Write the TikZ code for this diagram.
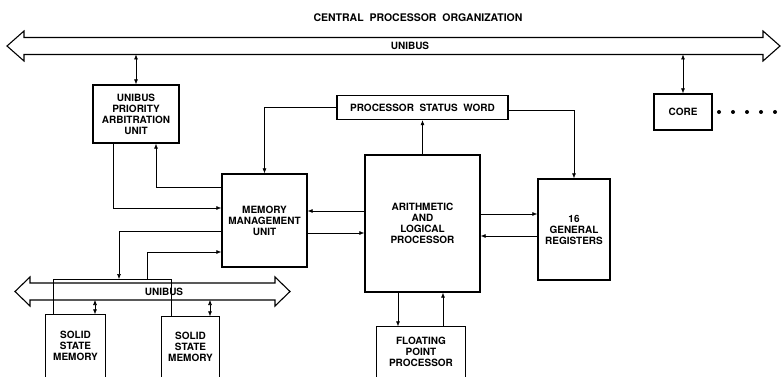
\documentclass[tikz,border=0pt]{standalone}
\usepackage{fontspec}
\setsansfont{TeX Gyre Heros}
\usepackage{tikz}
\usetikzlibrary{arrows.meta}
\tikzstyle{arrow} = [semithick,-{Latex[length=5pt,width=4pt]}]
\tikzstyle{dblarrow} = [semithick,{Latex[length=5pt,width=4pt]}-{Latex[length=5pt,width=4pt]}]
\tikzstyle{unit} = [rectangle, draw=black, line width=1.4pt, inner sep=0pt, text centered, align=center, font=\sffamily\bfseries\fontsize{10}{11}\selectfont]
\tikzstyle{openunit} = [unit, draw=none]
\tikzstyle{bus} = [line width=1.1pt, line join=miter]
\tikzstyle{buslabel} = [font=\sffamily\bfseries\fontsize{10}{11}\selectfont]

\begin{document}
\begin{tikzpicture}[x=1pt, y=-1pt]
\useasboundingbox (0,0) rectangle (782,377);

% title
\node (title) [buslabel, font=\sffamily\bfseries\fontsize{10.5}{12}\selectfont] at (418,18) {CENTRAL\ \ PROCESSOR\ \ ORGANIZATION};

% top unibus
\draw [bus] (7,46) -- (24,31) -- (24,37.5) -- (763,37.5) -- (763,31) -- (780,46)
    -- (763,61) -- (763,54.5) -- (24,54.5) -- (24,61) -- cycle;
\node (topbus) [buslabel] at (410,46) {UNIBUS};
\coordinate (topbusS) at (0,54.5);

% lower unibus
\draw [bus] (15,291.5) -- (30,277) -- (30,283) -- (275,283) -- (275,277) -- (290,291.5)
    -- (275,306) -- (275,300) -- (30,300) -- (30,306) -- cycle;
\node (lowbus) [buslabel] at (164,292) {UNIBUS};
\coordinate (lowbusS) at (0,300);

% units
\node (upau) [unit, minimum width=86pt, minimum height=58pt] at (136,114) {UNIBUS\\PRIORITY\\ARBITRATION\\UNIT};
\node (psw) [unit, minimum width=171pt, minimum height=24pt] at (422.5,107.5) {PROCESSOR\ \ STATUS\ \ WORD};
\node (mmu) [unit, minimum width=85pt, minimum height=93pt] at (264.5,220.5) {MEMORY\\MANAGEMENT\\UNIT};
\node (alp) [unit, minimum width=115pt, minimum height=137pt] at (422.5,223.5) {ARITHMETIC\\AND\\LOGICAL\\PROCESSOR};
\node (regs) [unit, minimum width=72pt, minimum height=101pt] at (574,229.5) {16\\GENERAL\\REGISTERS};
\node (core) [unit, minimum width=58pt, minimum height=36pt] at (683,112) {CORE};
\node (fpp) [openunit, minimum width=88pt, minimum height=50pt] at (421,352) {FLOATING\\POINT\\PROCESSOR};
\node (ssmA) [openunit, minimum width=59pt, minimum height=62pt] at (75.5,346) {SOLID\\STATE\\MEMORY};
\node (ssmB) [openunit, minimum width=57pt, minimum height=60pt] at (190.5,347) {SOLID\\STATE\\MEMORY};
\foreach \n in {fpp, ssmA, ssmB}
    \draw [line width=1.4pt] (\n.south west) |- (\n.north east) -- (\n.south east);

\foreach \x in {719,733,747,761,775}
    \fill (\x,112) circle (2pt);

% memory link
\coordinate (memL) at (53,279);
\coordinate (memR) at (171,279);
\coordinate (memA) at (119,279);
\coordinate (memB) at (147,279);
\draw [semithick] (memL |- ssmA.north) -- (memL) -- (memR) -- (memR |- ssmB.north);

% bus connections
\draw [dblarrow] (upau.north) -- (upau.north |- topbusS);
\draw [dblarrow] (core.north) -- (core.north |- topbusS);
\draw [dblarrow] (ssmA.north -| 95,0) -- (lowbusS -| 95,0);
\draw [dblarrow] (ssmB.north -| 210,0) -- (lowbusS -| 210,0);

% status word
\draw [arrow] (psw.west) -| (mmu.north);
\draw [arrow] (psw.east |- 0,110) -| (regs.north);
\draw [arrow] (alp.north) -- (psw.south);

% memory management
\draw [arrow] (upau.south -| 113,0) |- (mmu.west |- 0,208);
\draw [arrow] (mmu.west |- 0,187) -| (upau.south -| 156,0);
\draw [arrow] (alp.west |- 0,211) -- (mmu.east |- 0,211);
\draw [arrow] (mmu.east |- 0,233) -- (alp.west |- 0,233);
\draw [arrow] (mmu.west |- 0,231) -| (memA);
\draw [arrow] (memB) |- (mmu.west |- 0,252);

% registers and floating point
\draw [arrow] (alp.east |- 0,214) -- (regs.west |- 0,214);
\draw [arrow] (regs.west |- 0,236) -- (alp.east |- 0,236);
\draw [arrow] (alp.south -| 398,0) -- (fpp.north -| 398,0);
\draw [arrow] (fpp.north -| 443,0) -- (alp.south -| 443,0);
\end{tikzpicture}
\end{document}
